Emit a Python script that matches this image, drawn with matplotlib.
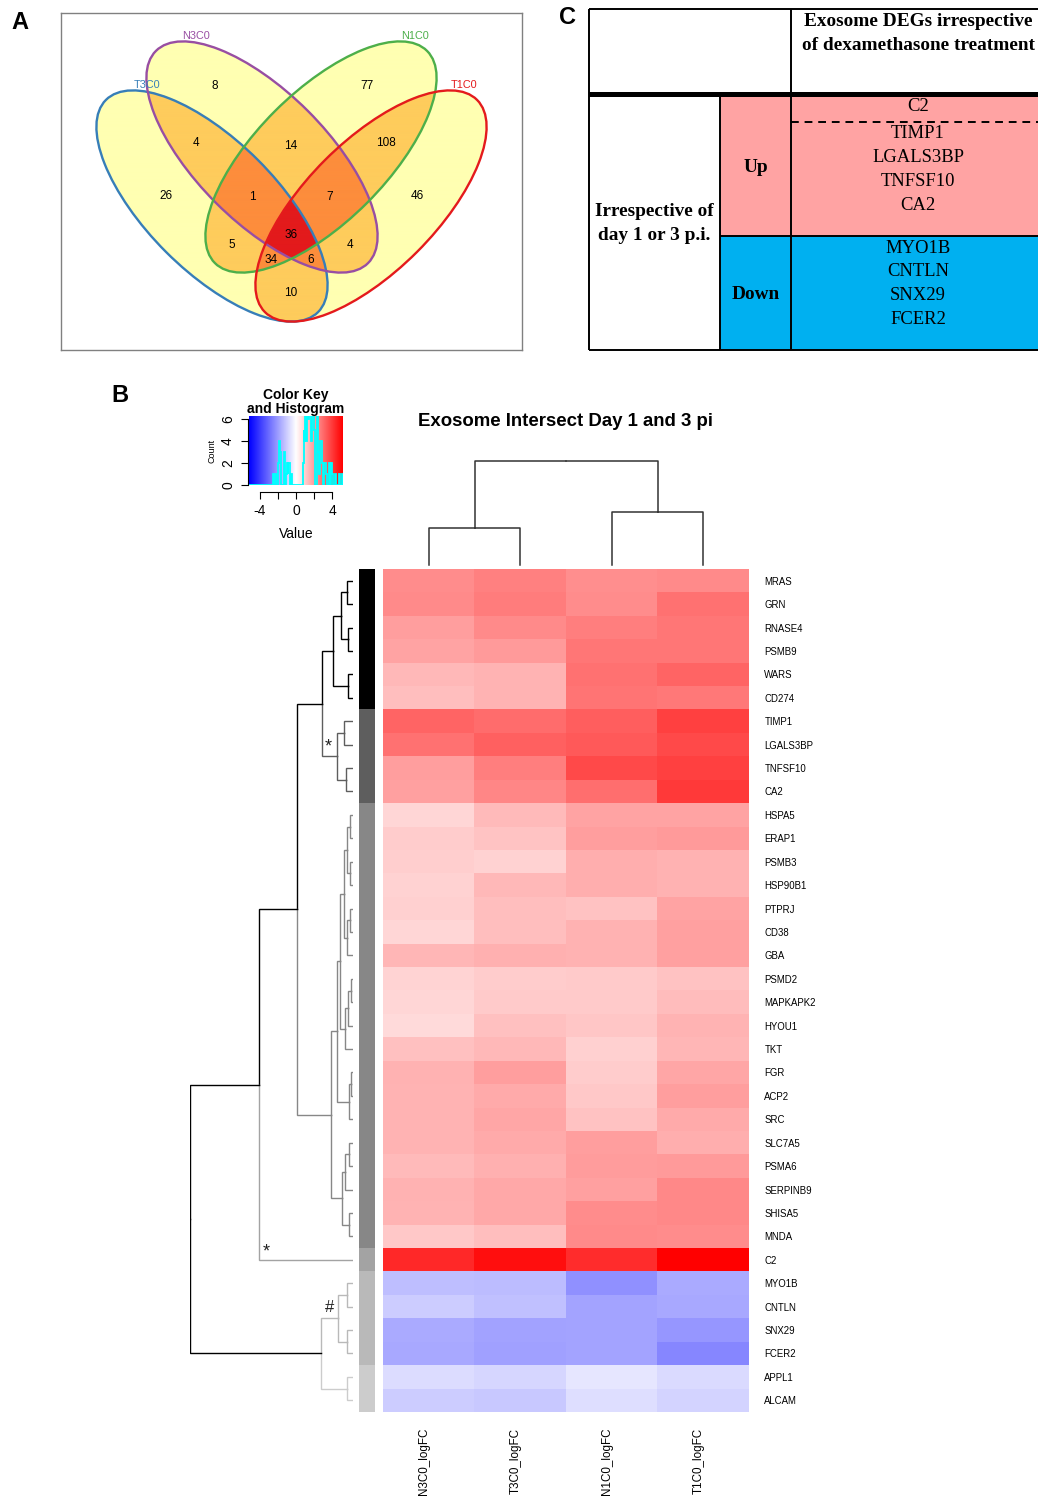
import numpy as np
import matplotlib
matplotlib.use('Agg')
import matplotlib.pyplot as plt
from matplotlib.patches import Ellipse, Rectangle
from matplotlib.colors import LinearSegmentedColormap, ListedColormap, to_rgba

W, H = 1038, 1499
SANS = ['Liberation Sans', 'DejaVu Sans']
SERIF = ['Liberation Serif', 'DejaVu Serif']
plt.rcParams['font.family'] = SANS

# ---------------- DATA ----------------
# Panel A: Venn
venn_sets = ['T3C0', 'N3C0', 'N1C0', 'T1C0']
venn_colors = ['#377EB8', '#984EA3', '#4DAF4A', '#E41A1C']
venn_counts = [8, 77, 4, 14, 108, 26, 1, 7, 46, 36, 5, 4, 34, 6, 10]

# Panel C: table
table_header = ['Exosome DEGs irrespective', 'of dexamethasone treatment']
table_rowhead = ['Irrespective of', 'day 1 or 3 p.i.']
table_up_top = ['C2']
table_up = ['TIMP1', 'LGALS3BP', 'TNFSF10', 'CA2']
table_down = ['MYO1B', 'CNTLN', 'SNX29', 'FCER2']

# Panel B: heatmap
genes = ['MRAS', 'GRN', 'RNASE4', 'PSMB9', 'WARS', 'CD274', 'TIMP1', 'LGALS3BP', 'TNFSF10', 'CA2',
         'HSPA5', 'ERAP1', 'PSMB3', 'HSP90B1', 'PTPRJ', 'CD38', 'GBA', 'PSMD2', 'MAPKAPK2', 'HYOU1',
         'TKT', 'FGR', 'ACP2', 'SRC', 'SLC7A5', 'PSMA6', 'SERPINB9', 'SHISA5', 'MNDA', 'C2',
         'MYO1B', 'CNTLN', 'SNX29', 'FCER2', 'APPL1', 'ALCAM']
samples = ['N3C0_logFC', 'T3C0_logFC', 'N1C0_logFC', 'T1C0_logFC']
n3c0 = [2.35, 2.38, 1.95, 1.84, 1.43, 1.32, 3.15, 2.87, 1.96, 1.93,
        0.83, 1.03, 1.01, 0.93, 0.94, 0.84, 1.50, 0.86, 0.85, 0.76,
        1.27, 1.55, 1.53, 1.52, 1.51, 1.42, 1.56, 1.54, 1.12, 4.38,
        -1.33, -1.02, -1.74, -1.76, -0.71, -1.02]
t3c0 = [2.56, 2.66, 2.36, 2.05, 1.54, 1.52, 2.97, 3.25, 2.64, 2.46,
        1.42, 1.21, 0.91, 1.44, 1.34, 1.31, 1.62, 1.04, 1.07, 1.26,
        1.45, 1.96, 1.74, 1.82, 1.71, 1.61, 1.76, 1.78, 1.33, 4.88,
        -1.35, -1.28, -1.90, -1.94, -0.82, -1.12]
n1c0 = [2.31, 2.33, 2.64, 2.80, 2.85, 2.81, 3.27, 3.37, 3.68, 2.95,
        1.85, 1.95, 1.64, 1.66, 1.23, 1.58, 1.57, 1.06, 1.08, 1.17,
        0.95, 1.05, 1.13, 1.25, 1.97, 2.03, 1.92, 2.34, 2.36, 4.27,
        -2.24, -1.84, -1.83, -1.85, -0.51, -0.67]
t1c0 = [2.37, 2.86, 2.78, 2.77, 3.16, 2.76, 3.88, 3.66, 3.86, 3.99,
        1.83, 2.06, 1.55, 1.56, 1.86, 1.91, 1.93, 1.24, 1.36, 1.54,
        1.49, 1.81, 1.98, 1.72, 1.63, 2.07, 2.40, 2.42, 2.33, 5.20,
        -1.73, -1.77, -2.14, -2.45, -0.75, -0.88]
row_cluster = [0]*6 + [1]*4 + [2]*19 + [3] + [4]*4 + [5]*2
cluster_colors = ['#000000', '#5E5E5E', '#878787', '#A3A3A3', '#B9B9B9', '#CCCCCC']

# row dendrogram (left, right, merge height); leaves are row indices
abc = (((0, 1, 0.63), (2, 3, 0.47), 1.17), (4, 5, 0.47), 1.97)
de = ((6, 7, 0.90), (8, 9, 0.70), 1.63)
g1 = (((10, 11, 0.35), (12, 13, 0.35), 0.63), ((14, 15, 0.35), 16, 0.63), 0.87)
g2 = (((17, 18, 0.23), 19, 0.47), 20, 0.80)
g3 = ((21, 22, 0.23), 23, 0.43)
g4 = (((24, 25, 0.45), 26, 0.85), (27, 28, 0.45), 1.13)
row_tree = (((((abc, de, 3.07), (((g1, g2, 1.30), g3, 1.63), g4, 2.23), 5.63), 29, 9.40),
             (((30, 31, 0.63), (32, 33, 0.63), 1.47), (34, 35, 0.63), 3.23), 16.30))
col_tree = ((0, 1, 0.37), (2, 3, 0.53), 1.04)

VMAX = 5.2

# ---------------- FIGURE ----------------
fig = plt.figure(figsize=(W/100, H/100), dpi=100)


def px_axes(x0, y0, x1, y1, **kw):
    return fig.add_axes([x0/W, 1 - y1/H, (x1 - x0)/W, (y1 - y0)/H], **kw)


ov = fig.add_axes([0, 0, 1, 1], zorder=-5)
ov.set_xlim(0, W)
ov.set_ylim(H, 0)
ov.axis('off')

# panel letters
for lab, (x, y) in zip(['A', 'B', 'C'], [(20, 22), (120, 395), (567, 17)]):
    ov.text(x, y, lab, fontsize=17, fontweight='bold', ha='center', va='center')

# ---------------- PANEL A: Venn ----------------
axA = px_axes(61, 13, 522, 350)
bw, bh = 461, 337
axA.set_xlim(0, bw)
axA.set_ylim(bh, 0)
axA.set_xticks([]); axA.set_yticks([])
for s in axA.spines.values():
    s.set_color('#808080'); s.set_linewidth(1.0)

ell_centers = [(151, 193), (201, 144), (260, 144), (310, 193)]
ell_angles = [45, 45, -45, -45]
ea, eb = 150, 65
xs = np.linspace(0, bw, bw*3)
ys = np.linspace(0, bh, bh*3)
XX, YY = np.meshgrid(xs, ys)
cnt = np.zeros_like(XX, dtype=int)
for (cx, cy), ang in zip(ell_centers, ell_angles):
    t = np.deg2rad(ang)
    dx, dy = XX - cx, YY - cy
    u = dx*np.cos(t) + dy*np.sin(t)
    v = -dx*np.sin(t) + dy*np.cos(t)
    cnt += ((u/ea)**2 + (v/eb)**2 <= 1).astype(int)
fill_cols = [(1, 1, 1, 0), to_rgba('#FFFFB2'), to_rgba('#FECC5C'), to_rgba('#FD8D3C'), to_rgba('#E31A1C')]
img = np.array(fill_cols)[cnt]
axA.imshow(img, extent=[0, bw, bh, 0], origin='upper', interpolation='bilinear', zorder=1)
for (cx, cy), ang, col in zip(ell_centers, ell_angles, venn_colors):
    axA.add_patch(Ellipse((cx, cy), 2*ea, 2*eb, angle=ang, fill=False, ec=col, lw=1.7, zorder=3))
axA.set_aspect('auto')
count_pos = [(154, 73), (306, 73), (135, 130), (230, 133), (325, 130), (105, 183), (191, 184),
             (269, 184), (356, 183), (230, 222), (171, 232), (289, 232), (210, 247), (250, 247),
             (230, 280)]
for c, (x, y) in zip(venn_counts, count_pos):
    axA.text(x, y, str(c), fontsize=8.5, ha='center', va='center', zorder=4)
set_pos = [(86, 72), (135, 23), (354, 23), (403, 72)]
for name, col, (x, y) in zip(venn_sets, venn_colors, set_pos):
    axA.text(x, y, name, fontsize=7.8, color=col, ha='center', va='center', zorder=4)

# ---------------- PANEL C: table ----------------
pink, cyanb = '#FFA3A3', '#00B0F0'
xL, xM, xR, xE = 589, 720, 791, 1045
yT, yB1, yB2, yUD, yBot = 9, 92, 97, 236, 350
ov.add_patch(Rectangle((xM, yB2), xE - xM, yUD - yB2, fc=pink, ec='none'))
ov.add_patch(Rectangle((xM, yUD), xE - xM, yBot - yUD, fc=cyanb, ec='none'))
ov.add_patch(Rectangle((xL, yB1), xE - xL, yB2 - yB1, fc='black', ec='none'))
lk = dict(color='black', lw=1.4, solid_capstyle='butt')
ov.plot([xL, xE], [yT, yT], **lk)
ov.plot([xL, xE], [yBot, yBot], **lk)
ov.plot([xL, xL], [yT, yBot], **lk)
ov.plot([xR, xR], [yT, yBot], **lk)
ov.plot([xM, xM], [yB2, yBot], **lk)
ov.plot([xM, xE], [yUD, yUD], **lk)
ov.plot([xR, xE], [122, 122], color='black', lw=1.4, ls=(0, (4, 3)))
tcx = 918
bold_kw = dict(fontsize=13.9, fontweight='bold', family=SERIF, ha='center', va='center')
reg_kw = dict(fontsize=13.4, family=SERIF, ha='center', va='center')
for i, s in enumerate(table_header):
    ov.text(tcx, 21 + 24*i, s, **bold_kw)
for i, s in enumerate(table_rowhead):
    ov.text((xL + xM)/2, 211 + 24*i, s, **bold_kw)
ov.text((xM + xR)/2, 167, 'Up', **bold_kw)
ov.text((xM + xR)/2, 294, 'Down', **bold_kw)
ov.text(tcx, 106, table_up_top[0], **reg_kw)
for i, g in enumerate(table_up):
    ov.text(tcx, 133 + 24*i, g, **reg_kw)
for i, g in enumerate(table_down):
    ov.text(tcx, 248 + 23.7*i, g, **reg_kw)

# ---------------- PANEL B: heatmap ----------------
vals = np.array([n3c0, t3c0, n1c0, t1c0]).T
cmap = LinearSegmentedColormap.from_list('bluered', ['#0000FF', '#FFFFFF', '#FF0000'], N=256)
nr, nc = vals.shape

axH = px_axes(383, 569, 749, 1412)
axH.imshow(vals, cmap=cmap, vmin=-VMAX, vmax=VMAX, aspect='auto', extent=[0, nc, nr, 0],
           interpolation='nearest')
axH.set_xlim(0, nc); axH.set_ylim(nr, 0)
for s in axH.spines.values():
    s.set_visible(False)
axH.yaxis.tick_right()
axH.set_yticks(np.arange(nr) + 0.5)
axH.set_yticklabels(genes, fontsize=6.9)
axH.tick_params(axis='y', length=0, pad=11)
axH.set_xticks(np.arange(nc) + 0.45)
axH.set_xticklabels(samples, rotation=90, fontsize=8.4, va='top', ha='center')
axH.tick_params(axis='x', length=0, pad=11.5)

# row side colours
axS = px_axes(359, 569, 375, 1412)
axS.imshow(np.array(row_cluster)[:, None], cmap=ListedColormap(cluster_colors), vmin=-0.5,
           vmax=len(cluster_colors) - 0.5, aspect='auto', extent=[0, 1, nr, 0], interpolation='nearest')
axS.axis('off')


def leaves(node):
    if isinstance(node, int):
        return [node]
    return leaves(node[0]) + leaves(node[1])


def node_color(node):
    cl = set(row_cluster[i] for i in leaves(node))
    if len(cl) == 1:
        return cluster_colors[cl.pop()]
    return '#000000'


def draw_row(ax, node):
    if isinstance(node, int):
        return node + 0.5, 0.0
    l, r, h = node
    yl, hl = draw_row(ax, l)
    yr, hr = draw_row(ax, r)
    ym = (yl + yr)/2
    for child, yc, hc in ((l, yl, hl), (r, yr, hr)):
        col = node_color(child)
        ax.plot([h, h, hc], [ym, yc, yc], color=col, lw=1.0, solid_joinstyle='miter')
    return ym, h


axR = px_axes(190, 569, 353, 1412)
axR.set_xlim(row_tree[2], 0)
axR.set_ylim(nr, 0)
axR.axis('off')
draw_row(axR, row_tree)
axR.text(2.5, 7.6, '*', fontsize=13, ha='center', va='center', color='#222222')
axR.text(8.7, 29.15, '*', fontsize=13, ha='center', va='center', color='#222222')
axR.text(2.3, 31.55, '#', fontsize=12, ha='center', va='center', color='#222222')


def draw_col(ax, node):
    if isinstance(node, int):
        return node + 0.5, 0.0
    l, r, h = node
    xl, hl = draw_col(ax, l)
    xr, hr = draw_col(ax, r)
    xm = (xl + xr)/2
    for xc, hc in ((xl, hl), (xr, hr)):
        ax.plot([xm, xc, xc], [h, h, hc], color='#333333', lw=1.1)
    return xm, h


axC = px_axes(383, 461, 749, 565)
axC.set_xlim(0, nc)
axC.set_ylim(0, col_tree[2])
axC.axis('off')
draw_col(axC, col_tree)
for ln in axC.lines:
    ln.set_clip_on(False)

ov.text(566, 421, 'Exosome Intersect Day 1 and 3 pi', fontsize=13.4, fontweight='bold',
        ha='center', va='center')

# colour key + histogram
axK = px_axes(249, 416, 343, 485)
grad = np.linspace(-VMAX, VMAX, 256)[None, :]
axK.imshow(grad, cmap=cmap, vmin=-VMAX, vmax=VMAX, aspect='auto',
           extent=[-VMAX, VMAX, 0, 6.27], interpolation='bilinear')
axK.hist(vals.ravel(), bins=np.linspace(-VMAX, VMAX, 101), histtype='step', color='cyan', lw=1.3)
axK.set_xlim(-VMAX, VMAX)
axK.set_ylim(0, 6.27)
for side in ('top', 'right'):
    axK.spines[side].set_visible(False)
axK.spines['bottom'].set_position(('outward', 5))
axK.spines['bottom'].set_bounds(-4, 4)
axK.spines['left'].set_position(('outward', 1))
axK.spines['left'].set_bounds(0, 6)
axK.set_xticks([-4, -2, 0, 2, 4])
axK.set_xticklabels(['-4', '', '0', '', '4'], fontsize=10)
axK.set_yticks([0, 2, 4, 6])
axK.set_yticklabels(['0', '2', '4', '6'], fontsize=10, rotation=90, va='center')
axK.tick_params(axis='x', length=5, width=0.8, pad=4)
axK.tick_params(axis='y', length=5, width=0.8, pad=4)
axK.set_xlabel('Value', fontsize=10, labelpad=6)
axK.set_ylabel('Count', fontsize=6.5, labelpad=3)
axK.set_title('Color Key\nand Histogram', fontsize=10, fontweight='bold', pad=2, linespacing=1.0)

fig.savefig('out.png', dpi=100)
